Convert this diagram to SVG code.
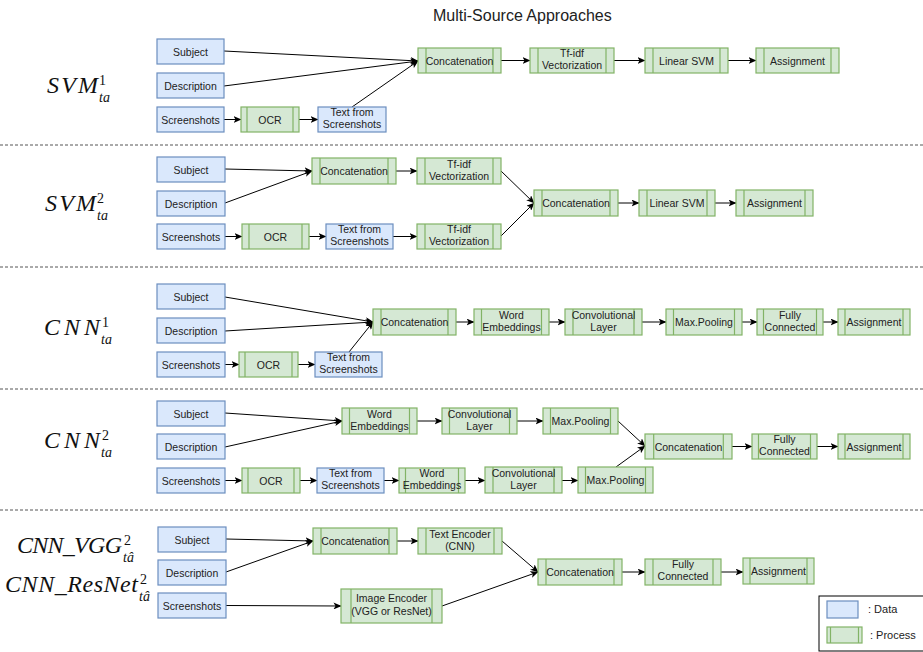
<svg xmlns="http://www.w3.org/2000/svg" width="923" height="652" viewBox="0 0 923 652">
<style>
.d{fill:#dae8fc;stroke:#6c8ebf;stroke-width:1.2}
.p{fill:#d5e8d4;stroke:#82b366;stroke-width:1.2}
.pl{fill:none;stroke:#82b366;stroke-width:1.2}
.t{font-family:"Liberation Sans",Arial,sans-serif;font-size:10.5px;fill:#222;text-anchor:middle}
.c{fill:none;stroke:#000;stroke-width:1;marker-end:url(#ah)}
.sep{stroke:#555;stroke-width:1;stroke-dasharray:3 2}
.m{font-family:"Liberation Serif","Times New Roman",serif;font-style:italic;font-size:24px;fill:#111}
.ms{font-family:"Liberation Serif","Times New Roman",serif;font-size:14px;fill:#111}
.mi{font-family:"Liberation Serif","Times New Roman",serif;font-style:italic;font-size:14px;fill:#111}
.title{font-family:"Liberation Sans",Arial,sans-serif;font-size:16px;fill:#222}
.lg{font-family:"Liberation Sans",Arial,sans-serif;font-size:11px;fill:#222}
</style>
<defs>
<marker id="ah" viewBox="0 0 8 7" refX="7.5" refY="3.5" markerWidth="8" markerHeight="7" orient="auto" markerUnits="userSpaceOnUse"><path d="M0,0 L8,3.5 L0,7 L2,3.5z" fill="#000"/></marker>
</defs>
<rect width="923" height="652" fill="#fff"/>
<text class="title" x="433" y="21">Multi-Source Approaches</text>

<g id="separators">
<line class="sep" x1="0" y1="145" x2="923" y2="145"/>
<line class="sep" x1="0" y1="267" x2="923" y2="267"/>
<line class="sep" x1="0" y1="389" x2="923" y2="389"/>
<line class="sep" x1="0" y1="510" x2="923" y2="510"/>
</g>

<g id="labels">
<text class="m" x="47" y="93" textLength="51" lengthAdjust="spacing">SVM</text><text class="ms" x="99" y="85">1</text><text class="mi" x="99" y="102">ta</text>
<text class="m" x="45" y="211" textLength="51" lengthAdjust="spacing">SVM</text><text class="ms" x="97" y="203">2</text><text class="mi" x="97" y="220">ta</text>
<text class="m" x="44" y="335" textLength="56" lengthAdjust="spacing">CNN</text><text class="ms" x="102" y="327">1</text><text class="mi" x="101" y="344">ta</text>
<text class="m" x="44" y="448" textLength="56" lengthAdjust="spacing">CNN</text><text class="ms" x="102" y="440">2</text><text class="mi" x="101" y="457">ta</text>
<text class="m" x="17" y="553" textLength="105" lengthAdjust="spacing">CNN_VGG</text><text class="ms" x="124" y="545">2</text><text class="mi" x="123" y="562">tâ</text>
<text class="m" x="5" y="592" textLength="133" lengthAdjust="spacing">CNN_ResNet</text><text class="ms" x="140" y="584">2</text><text class="mi" x="139" y="601">tâ</text>
</g>

<g id="connectors">
<path class="c" d="M224,51 L418,61"/>
<path class="c" d="M224,86 L418,61"/>
<path class="c" d="M352,107 L418,61"/>
<path class="c" d="M224,119.5 H241"/>
<path class="c" d="M299,119.5 H318"/>
<path class="c" d="M501,60.5 H530"/>
<path class="c" d="M614,60.5 H645"/>
<path class="c" d="M728,60.5 H756"/>

<path class="c" d="M225,169 L312,171"/>
<path class="c" d="M225,203 L312,171"/>
<path class="c" d="M396,171 H417"/>
<path class="c" d="M225,236.5 H242"/>
<path class="c" d="M309,236.5 H326"/>
<path class="c" d="M393,236.5 H417"/>
<path class="c" d="M501,171 L534,203"/>
<path class="c" d="M501,236 L534,203"/>
<path class="c" d="M618,203 H639"/>
<path class="c" d="M715,203 H736"/>

<path class="c" d="M225,297 L373,322"/>
<path class="c" d="M225,331 L373,322"/>
<path class="c" d="M349,352 L373,322"/>
<path class="c" d="M225,364.5 H239"/>
<path class="c" d="M298,364.5 H315"/>
<path class="c" d="M456,322 H474"/>
<path class="c" d="M549,322 H565"/>
<path class="c" d="M642,322 H666"/>
<path class="c" d="M742,322 H757"/>
<path class="c" d="M823,322 H838"/>

<path class="c" d="M225,413 L342,421"/>
<path class="c" d="M225,447 L342,421"/>
<path class="c" d="M417,421 H442"/>
<path class="c" d="M517,421 H543"/>
<path class="c" d="M618,421 L645,446"/>
<path class="c" d="M616,467 L645,446"/>
<path class="c" d="M225,480.5 H242"/>
<path class="c" d="M300,480.5 H317"/>
<path class="c" d="M384,480.5 H399"/>
<path class="c" d="M465,480.5 H485"/>
<path class="c" d="M562,480.5 H578"/>
<path class="c" d="M732,446.5 H752"/>
<path class="c" d="M817,446.5 H838"/>

<path class="c" d="M226,539 L313,541"/>
<path class="c" d="M226,572 L313,541"/>
<path class="c" d="M226,605.5 L341,606"/>
<path class="c" d="M397,541 H418"/>
<path class="c" d="M502,541 L538,572"/>
<path class="c" d="M442,606 L538,572"/>
<path class="c" d="M622,572 H645"/>
<path class="c" d="M721,572 H743"/>
</g>

<!-- Section 1 -->
<g id="s1-subject"><rect class="d" x="157" y="39" width="67" height="25"/><text class="t" x="190.5" y="55.5">Subject</text></g>
<g id="s1-description"><rect class="d" x="157" y="73" width="67" height="25"/><text class="t" x="190.5" y="89.5">Description</text></g>
<g id="s1-screenshots"><rect class="d" x="157" y="107" width="67" height="25"/><text class="t" x="190.5" y="123.5">Screenshots</text></g>
<g id="s1-ocr"><rect class="p" x="241" y="107" width="58" height="25"/><path class="pl" d="M247,107v25M293,107v25"/><text class="t" x="270" y="123.5">OCR</text></g>
<g id="s1-text"><rect class="d" x="318" y="107" width="68" height="25"/><text class="t" x="352" y="116">Text from</text><text class="t" x="352" y="128">Screenshots</text></g>
<g id="s1-concat"><rect class="p" x="418" y="48" width="83" height="25"/><path class="pl" d="M426,48v25M493,48v25"/><text class="t" x="459.5" y="64.5">Concatenation</text></g>
<g id="s1-tfidf"><rect class="p" x="530" y="48" width="84" height="25"/><path class="pl" d="M538,48v25M606,48v25"/><text class="t" x="572" y="57">Tf-idf</text><text class="t" x="572" y="69">Vectorization</text></g>
<g id="s1-svm"><rect class="p" x="645" y="48" width="83" height="25"/><path class="pl" d="M653,48v25M720,48v25"/><text class="t" x="686.5" y="64.5">Linear SVM</text></g>
<g id="s1-assign"><rect class="p" x="756" y="48" width="83" height="25"/><path class="pl" d="M764,48v25M831,48v25"/><text class="t" x="797.5" y="64.5">Assignment</text></g>

<!-- Section 2 -->
<g id="s2-subject"><rect class="d" x="157" y="157" width="68" height="25"/><text class="t" x="191" y="173.5">Subject</text></g>
<g id="s2-description"><rect class="d" x="157" y="191" width="68" height="25"/><text class="t" x="191" y="207.5">Description</text></g>
<g id="s2-screenshots"><rect class="d" x="157" y="224" width="68" height="25"/><text class="t" x="191" y="240.5">Screenshots</text></g>
<g id="s2-ocr"><rect class="p" x="242" y="224" width="67" height="25"/><path class="pl" d="M249,224v25M302,224v25"/><text class="t" x="275.5" y="240.5">OCR</text></g>
<g id="s2-text"><rect class="d" x="326" y="224" width="67" height="25"/><text class="t" x="359.5" y="233">Text from</text><text class="t" x="359.5" y="245">Screenshots</text></g>
<g id="s2-concat1"><rect class="p" x="312" y="158" width="84" height="26"/><path class="pl" d="M320,158v26M388,158v26"/><text class="t" x="354" y="175">Concatenation</text></g>
<g id="s2-tfidf1"><rect class="p" x="417" y="158" width="84" height="26"/><path class="pl" d="M425,158v26M493,158v26"/><text class="t" x="459" y="167.5">Tf-idf</text><text class="t" x="459" y="179.5">Vectorization</text></g>
<g id="s2-tfidf2"><rect class="p" x="417" y="224" width="84" height="25"/><path class="pl" d="M425,224v25M493,224v25"/><text class="t" x="459" y="233">Tf-idf</text><text class="t" x="459" y="245">Vectorization</text></g>
<g id="s2-concat2"><rect class="p" x="534" y="190" width="84" height="26"/><path class="pl" d="M542,190v26M610,190v26"/><text class="t" x="576" y="207">Concatenation</text></g>
<g id="s2-svm"><rect class="p" x="639" y="190" width="76" height="26"/><path class="pl" d="M647,190v26M707,190v26"/><text class="t" x="677" y="207">Linear SVM</text></g>
<g id="s2-assign"><rect class="p" x="736" y="190" width="77" height="26"/><path class="pl" d="M744,190v26M805,190v26"/><text class="t" x="774.5" y="207">Assignment</text></g>

<!-- Section 3 -->
<g id="s3-subject"><rect class="d" x="157" y="284" width="68" height="25"/><text class="t" x="191" y="300.5">Subject</text></g>
<g id="s3-description"><rect class="d" x="157" y="318" width="68" height="25"/><text class="t" x="191" y="334.5">Description</text></g>
<g id="s3-screenshots"><rect class="d" x="157" y="352" width="68" height="25"/><text class="t" x="191" y="368.5">Screenshots</text></g>
<g id="s3-ocr"><rect class="p" x="239" y="352" width="59" height="25"/><path class="pl" d="M245,352v25M292,352v25"/><text class="t" x="268.5" y="368.5">OCR</text></g>
<g id="s3-text"><rect class="d" x="315" y="352" width="67" height="25"/><text class="t" x="348.5" y="361">Text from</text><text class="t" x="348.5" y="373">Screenshots</text></g>
<g id="s3-concat"><rect class="p" x="373" y="309" width="83" height="26"/><path class="pl" d="M381,309v26M448,309v26"/><text class="t" x="414.5" y="326">Concatenation</text></g>
<g id="s3-we"><rect class="p" x="474" y="309" width="75" height="26"/><path class="pl" d="M481.5,309v26M541.5,309v26"/><text class="t" x="511.5" y="318.5">Word</text><text class="t" x="511.5" y="330.5">Embeddings</text></g>
<g id="s3-conv"><rect class="p" x="565" y="309" width="77" height="26"/><path class="pl" d="M573,309v26M634,309v26"/><text class="t" x="603.5" y="318.5">Convolutional</text><text class="t" x="603.5" y="330.5">Layer</text></g>
<g id="s3-mp"><rect class="p" x="666" y="309" width="76" height="26"/><path class="pl" d="M673.5,309v26M734.5,309v26"/><text class="t" x="704" y="326">Max.Pooling</text></g>
<g id="s3-fc"><rect class="p" x="757" y="309" width="66" height="26"/><path class="pl" d="M763.5,309v26M816.5,309v26"/><text class="t" x="790" y="318.5">Fully</text><text class="t" x="790" y="330.5">Connected</text></g>
<g id="s3-assign"><rect class="p" x="838" y="309" width="72" height="26"/><path class="pl" d="M845,309v26M903,309v26"/><text class="t" x="874" y="326">Assignment</text></g>

<!-- Section 4 -->
<g id="s4-subject"><rect class="d" x="157" y="401" width="68" height="25"/><text class="t" x="191" y="417.5">Subject</text></g>
<g id="s4-description"><rect class="d" x="157" y="434" width="68" height="25"/><text class="t" x="191" y="450.5">Description</text></g>
<g id="s4-screenshots"><rect class="d" x="157" y="468" width="68" height="25"/><text class="t" x="191" y="484.5">Screenshots</text></g>
<g id="s4-ocr"><rect class="p" x="242" y="468" width="58" height="25"/><path class="pl" d="M248,468v25M294,468v25"/><text class="t" x="271" y="484.5">OCR</text></g>
<g id="s4-text"><rect class="d" x="317" y="468" width="67" height="25"/><text class="t" x="350.5" y="477">Text from</text><text class="t" x="350.5" y="489">Screenshots</text></g>
<g id="s4-we1"><rect class="p" x="342" y="408" width="75" height="26"/><path class="pl" d="M349.5,408v26M409.5,408v26"/><text class="t" x="379.5" y="417.5">Word</text><text class="t" x="379.5" y="429.5">Embeddings</text></g>
<g id="s4-conv1"><rect class="p" x="442" y="408" width="75" height="26"/><path class="pl" d="M449.5,408v26M509.5,408v26"/><text class="t" x="479.5" y="417.5">Convolutional</text><text class="t" x="479.5" y="429.5">Layer</text></g>
<g id="s4-mp1"><rect class="p" x="543" y="408" width="75" height="26"/><path class="pl" d="M550.5,408v26M610.5,408v26"/><text class="t" x="580.5" y="425">Max.Pooling</text></g>
<g id="s4-we2"><rect class="p" x="399" y="468" width="66" height="25"/><path class="pl" d="M405.5,468v25M458.5,468v25"/><text class="t" x="432" y="477">Word</text><text class="t" x="432" y="489">Embeddings</text></g>
<g id="s4-conv2"><rect class="p" x="485" y="467" width="77" height="26"/><path class="pl" d="M493,467v26M554,467v26"/><text class="t" x="523.5" y="476.5">Convolutional</text><text class="t" x="523.5" y="488.5">Layer</text></g>
<g id="s4-mp2"><rect class="p" x="578" y="467" width="75" height="26"/><path class="pl" d="M585.5,467v26M645.5,467v26"/><text class="t" x="615.5" y="484">Max.Pooling</text></g>
<g id="s4-concat"><rect class="p" x="645" y="434" width="87" height="25"/><path class="pl" d="M653.7,434v25M723.3,434v25"/><text class="t" x="688.5" y="450.5">Concatenation</text></g>
<g id="s4-fc"><rect class="p" x="752" y="434" width="65" height="25"/><path class="pl" d="M758.5,434v25M810.5,434v25"/><text class="t" x="784.5" y="443">Fully</text><text class="t" x="784.5" y="455">Connected</text></g>
<g id="s4-assign"><rect class="p" x="838" y="434" width="72" height="25"/><path class="pl" d="M845,434v25M903,434v25"/><text class="t" x="874" y="450.5">Assignment</text></g>

<!-- Section 5 -->
<g id="s5-subject"><rect class="d" x="158" y="527" width="68" height="25"/><text class="t" x="192" y="543.5">Subject</text></g>
<g id="s5-description"><rect class="d" x="158" y="560" width="68" height="25"/><text class="t" x="192" y="576.5">Description</text></g>
<g id="s5-screenshots"><rect class="d" x="158" y="593" width="68" height="25"/><text class="t" x="192" y="609.5">Screenshots</text></g>
<g id="s5-concat1"><rect class="p" x="313" y="528" width="84" height="26"/><path class="pl" d="M321,528v26M389,528v26"/><text class="t" x="355" y="545">Concatenation</text></g>
<g id="s5-textenc"><rect class="p" x="418" y="528" width="84" height="26"/><path class="pl" d="M426,528v26M494,528v26"/><text class="t" x="460" y="537.5">Text Encoder</text><text class="t" x="460" y="549.5">(CNN)</text></g>
<g id="s5-imgenc"><rect class="p" x="341" y="589" width="101" height="34"/><path class="pl" d="M351,589v34M432,589v34"/><text class="t" x="391.5" y="602">Image Encoder</text><text class="t" x="391.5" y="615">(VGG or ResNet)</text></g>
<g id="s5-concat2"><rect class="p" x="538" y="559" width="84" height="26"/><path class="pl" d="M546,559v26M614,559v26"/><text class="t" x="580" y="576">Concatenation</text></g>
<g id="s5-fc"><rect class="p" x="645" y="559" width="76" height="26"/><path class="pl" d="M653,559v26M713,559v26"/><text class="t" x="683" y="567.5">Fully</text><text class="t" x="683" y="579.5">Connected</text></g>
<g id="s5-assign"><rect class="p" x="743" y="558" width="71" height="26"/><path class="pl" d="M750,558v26M807,558v26"/><text class="t" x="778.5" y="575">Assignment</text></g>

<g id="legend">
<rect x="819" y="596" width="112" height="55" fill="#fff" stroke="#000" stroke-width="1"/>
<rect class="d" x="827" y="601" width="31" height="17"/>
<text class="lg" x="868" y="613">: Data</text>
<rect class="p" x="827" y="627" width="35" height="16"/>
<path class="pl" d="M830.5,627v16M858.5,627v16"/>
<text class="lg" x="870" y="639">: Process</text>
</g>
</svg>
